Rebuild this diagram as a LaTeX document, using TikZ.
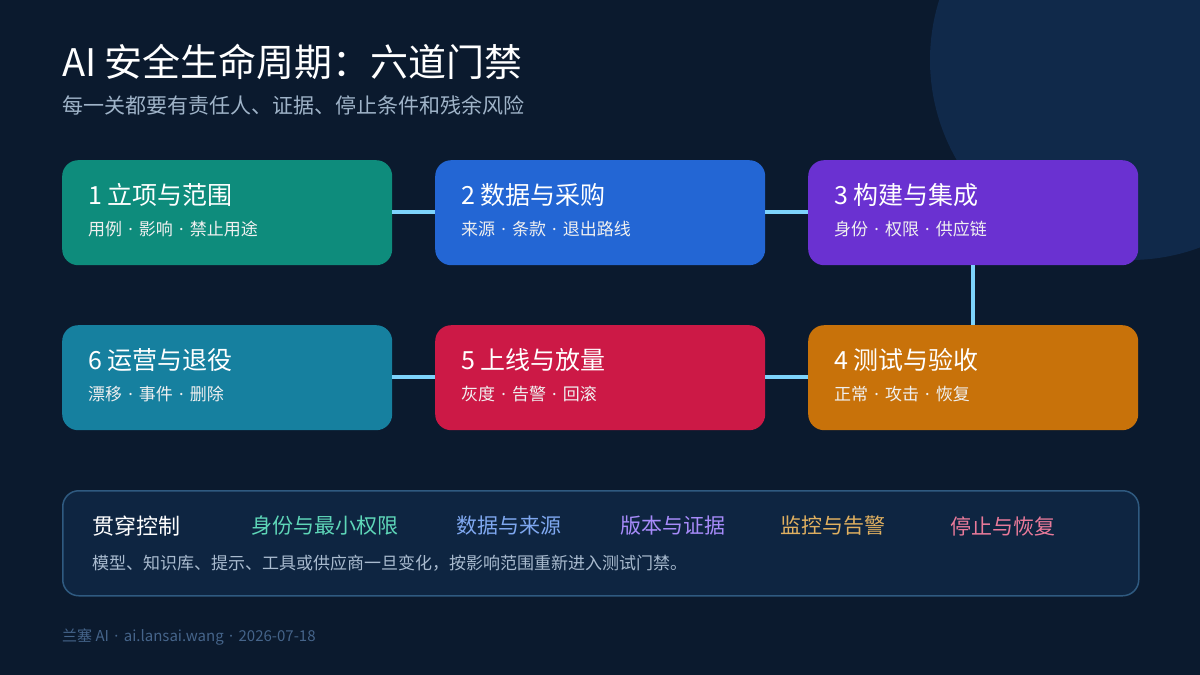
\documentclass[tikz,border=0pt]{standalone}
\usepackage{fontspec}
\setmainfont{Noto Sans CJK SC}
\newfontfamily\latinfont{Noto Sans}
\newcommand\gdot{\hspace{0.36em}{\latinfont ·}\hspace{0.36em}}
\usepackage{tikz}
\usetikzlibrary{calc}
\definecolor{bgnavy}{HTML}{0B1A2E}
\definecolor{bgcircle}{HTML}{10294A}
\definecolor{linkblue}{HTML}{7DD3FC}
\definecolor{gateteal}{HTML}{0E8C7C}
\definecolor{gateblue}{HTML}{2366D4}
\definecolor{gatepurple}{HTML}{6A31D1}
\definecolor{gateorange}{HTML}{C8720A}
\definecolor{gatered}{HTML}{CC1946}
\definecolor{gatecyan}{HTML}{16809F}
\definecolor{panelfill}{HTML}{0E2541}
\definecolor{panelline}{HTML}{2F5A80}
\definecolor{subgray}{HTML}{9FB3C8}
\definecolor{notegray}{HTML}{A9BBCF}
\definecolor{footgray}{HTML}{45648A}
\definecolor{ctlteal}{HTML}{5ED6B8}
\definecolor{ctlblue}{HTML}{7FA8F0}
\definecolor{ctlpurple}{HTML}{A78BFA}
\definecolor{ctlgold}{HTML}{E0B060}
\definecolor{ctlpink}{HTML}{E97A9A}

\begin{document}
\begin{tikzpicture}[
    x=1pt, y=-1pt,
    gate/.style={rounded corners=16pt, minimum width=330pt,
                 minimum height=105pt, anchor=north west, inner sep=0pt},
    gtitle/.style={anchor=west, inner sep=0pt, text=white,
                   font=\fontsize{25}{29}\selectfont},
    gsub/.style={anchor=west, inner sep=0pt, text=white!88!gray,
                 font=\fontsize{17}{20}\selectfont},
    link/.style={linkblue, line width=4pt},
    ctl/.style={anchor=west, inner sep=0pt, font=\fontsize{21}{25}\selectfont}
  ]
    \useasboundingbox (0,0) rectangle (1200,675);
    \fill[bgnavy] (0,0) rectangle (1200,675);
    \begin{scope}
      \clip (0,0) rectangle (1200,675);
      \fill[bgcircle] (1130,60) circle (200);
    \end{scope}

    % title
    \node[anchor=west, inner sep=0pt, text=white,
          font=\fontsize{38}{42}\selectfont] (title) at (62,62)
      {AI 安全生命周期：六道门禁};
    \node[anchor=west, inner sep=0pt, text=subgray,
          font=\fontsize{21}{25}\selectfont] (subtitle) at (62,105)
      {每一关都要有责任人、证据、停止条件和残余风险};

    % gates
    \node[gate, fill=gateteal] (s1) at (62,160) {};
    \node[gate, fill=gateblue] (s2) at (435,160) {};
    \node[gate, fill=gatepurple] (s3) at (808,160) {};
    \node[gate, fill=gatecyan] (s6) at (62,325) {};
    \node[gate, fill=gatered] (s5) at (435,325) {};
    \node[gate, fill=gateorange] (s4) at (808,325) {};

    \node[gtitle] (t1) at ($(s1.north west)+(26,35)$) {1 立项与范围};
    \node[gsub] (d1) at ($(s1.north west)+(26,69)$) {用例\gdot 影响\gdot 禁止用途};
    \node[gtitle] (t2) at ($(s2.north west)+(26,35)$) {2 数据与采购};
    \node[gsub] (d2) at ($(s2.north west)+(26,69)$) {来源\gdot 条款\gdot 退出路线};
    \node[gtitle] (t3) at ($(s3.north west)+(26,35)$) {3 构建与集成};
    \node[gsub] (d3) at ($(s3.north west)+(26,69)$) {身份\gdot 权限\gdot 供应链};
    \node[gtitle] (t4) at ($(s4.north west)+(26,35)$) {4 测试与验收};
    \node[gsub] (d4) at ($(s4.north west)+(26,69)$) {正常\gdot 攻击\gdot 恢复};
    \node[gtitle] (t5) at ($(s5.north west)+(26,35)$) {5 上线与放量};
    \node[gsub] (d5) at ($(s5.north west)+(26,69)$) {灰度\gdot 告警\gdot 回滚};
    \node[gtitle] (t6) at ($(s6.north west)+(26,35)$) {6 运营与退役};
    \node[gsub] (d6) at ($(s6.north west)+(26,69)$) {漂移\gdot 事件\gdot 删除};

    % links
    \draw[link] ($(s1.east)+(0,-0.5)$) -- ($(s2.west)+(0,-0.5)$);
    \draw[link] ($(s2.east)+(0,-0.5)$) -- ($(s3.west)+(0,-0.5)$);
    \draw[link] (s3.south) -- (s4.north);
    \draw[link] ($(s4.west)+(0,-0.5)$) -- ($(s5.east)+(0,-0.5)$);
    \draw[link] ($(s5.west)+(0,-0.5)$) -- ($(s6.east)+(0,-0.5)$);

    % controls panel
    \node[draw=panelline, line width=1.5pt, fill=panelfill,
          rounded corners=16pt, minimum width=1076pt, minimum height=105pt,
          anchor=north west, inner sep=0pt] (panel) at (62,490) {};
    \node[ctl, text=white, font=\fontsize{22}{26}\selectfont] (c0)
      at ($(panel.north west)+(30,36)$) {贯穿控制};
    \node[ctl, text=ctlteal] (c1) at ($(panel.north west)+(189,36)$) {身份与最小权限};
    \node[ctl, text=ctlblue] (c2) at ($(panel.north west)+(394,36)$) {数据与来源};
    \node[ctl, text=ctlpurple] (c3) at ($(panel.north west)+(558,36)$) {版本与证据};
    \node[ctl, text=ctlgold] (c4) at ($(panel.north west)+(718,36)$) {监控与告警};
    \node[ctl, text=ctlpink] (c5) at ($(panel.north west)+(888,36)$) {停止与恢复};
    \node[anchor=west, inner sep=0pt, text=notegray,
          font=\fontsize{17}{20}\selectfont] (note)
      at ($(panel.north west)+(30,73)$)
      {模型、知识库、提示、工具或供应商一旦变化，按影响范围重新进入测试门禁。};

    % footer
    \node[anchor=west, inner sep=0pt, text=footgray,
          font=\fontsize{15}{18}\selectfont] (footer) at (62,637)
      {兰塞 AI\gdot ai.lansai.wang\gdot 2026-07-18};
  \end{tikzpicture}
\end{document}
